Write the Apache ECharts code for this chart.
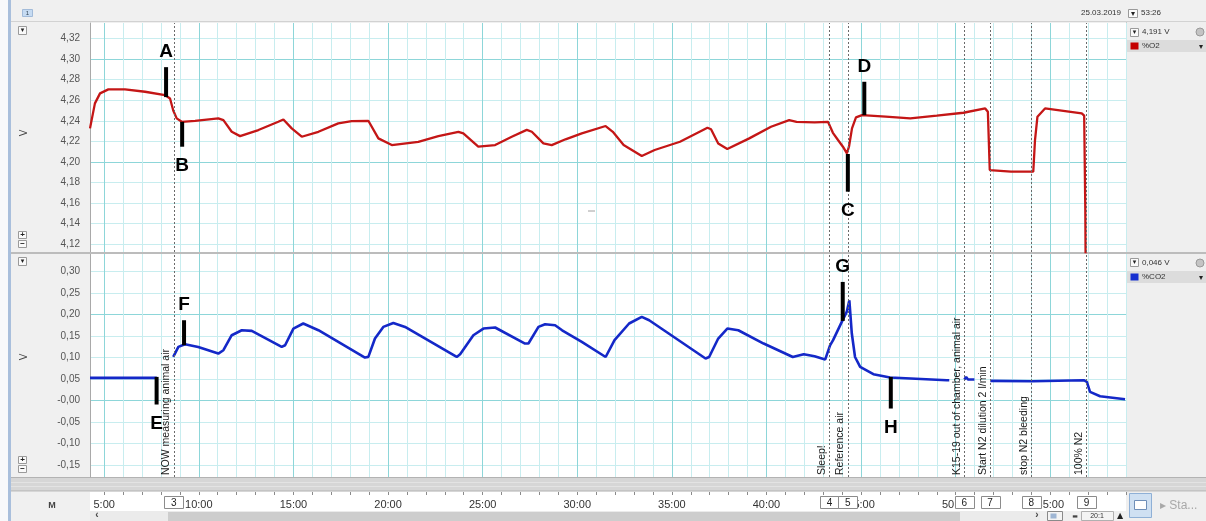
<!DOCTYPE html>
<html>
<head>
<meta charset="utf-8">
<script src="https://cdn.jsdelivr.net/npm/echarts@6/dist/echarts.min.js"></script>
<style>
html,body{margin:0;padding:0;background:#f0f0f0;overflow:hidden;}
#chart{width:1206px;height:521px;}
</style>
</head>
<body>
<div id="chart"></div>
<script>
// ---------------- DATA ----------------
// time in minutes
const o2Time = [4.25, 4.51, 4.78, 5.22, 6.10, 7.16, 8.21, 8.48, 8.65, 8.83, 9.10, 9.80, 11.03, 11.30, 11.74, 12.18, 13.15, 14.20, 14.47, 14.91, 15.44, 16.32, 17.37, 18.08, 18.96, 19.49, 20.20, 21.60, 22.66, 23.72, 23.98, 24.77, 25.66, 26.54, 27.33, 27.60, 28.21, 28.65, 29.38, 30.24, 31.50, 31.88, 32.45, 33.41, 34.09, 35.43, 36.88, 37.07, 37.45, 37.93, 39.09, 40.24, 41.20, 41.59, 42.54, 43.25, 43.51, 43.78, 44.04, 44.25, 44.36, 44.52, 44.73, 45.05, 46.30, 47.60, 49.00, 50.41, 51.56, 51.70, 51.80, 52.92, 54.10, 54.19, 54.32, 54.72, 56.66, 56.79, 56.85, 56.90];
const o2Values = [4.2326, 4.2569, 4.2666, 4.2705, 4.2705, 4.2682, 4.2650, 4.2617, 4.2500, 4.2423, 4.2390, 4.2400, 4.2423, 4.2407, 4.2293, 4.2251, 4.2310, 4.2390, 4.2413, 4.2326, 4.2245, 4.2293, 4.2375, 4.2397, 4.2400, 4.2229, 4.2164, 4.2196, 4.2251, 4.2293, 4.2278, 4.2148, 4.2164, 4.2245, 4.2312, 4.2293, 4.2180, 4.2164, 4.2220, 4.2278, 4.2349, 4.2293, 4.2164, 4.2057, 4.2116, 4.2196, 4.2332, 4.2317, 4.2180, 4.2125, 4.2229, 4.2342, 4.2407, 4.2390, 4.2384, 4.2390, 4.2283, 4.2213, 4.2148, 4.2083, 4.2148, 4.2326, 4.2433, 4.2455, 4.2440, 4.2423, 4.2450, 4.2478, 4.2520, 4.2487, 4.1921, 4.1905, 4.1905, 4.2210, 4.2440, 4.2520, 4.2472, 4.2450, 4.1530, 4.0000];

const co2Time = [4.25, 7.78, 7.80, 8.65, 8.92, 9.27, 9.97, 11.03, 11.30, 11.74, 12.27, 12.80, 14.38, 14.56, 15.00, 15.52, 16.32, 18.78, 18.96, 19.31, 19.75, 20.28, 20.90, 23.63, 23.81, 24.51, 25.04, 25.66, 27.24, 27.42, 27.95, 28.30, 28.83, 29.20, 30.24, 31.50, 31.97, 32.74, 33.41, 33.80, 36.78, 36.97, 37.45, 37.93, 38.51, 39.85, 41.39, 41.97, 42.54, 43.10, 43.36, 43.52, 43.98, 44.24, 44.38, 44.51, 44.68, 44.95, 45.65, 46.53, 49.53, 49.66, 49.70, 50.46, 50.55, 50.65, 50.99, 51.05, 51.83, 54.07, 56.77, 56.93, 57.10, 57.63, 58.95];
const co2Values = [0.0525, 0.0525, null, 0.1012, 0.1244, 0.1306, 0.1244, 0.1090, 0.1167, 0.1515, 0.1631, 0.1615, 0.1244, 0.1283, 0.1670, 0.1787, 0.1631, 0.0998, 0.1012, 0.1438, 0.1708, 0.1800, 0.1708, 0.1012, 0.1074, 0.1515, 0.1670, 0.1694, 0.1322, 0.1322, 0.1708, 0.1770, 0.1747, 0.1630, 0.1360, 0.1010, 0.1400, 0.1787, 0.1940, 0.1863, 0.0974, 0.1010, 0.1438, 0.1670, 0.1631, 0.1322, 0.1010, 0.1074, 0.1028, 0.0950, 0.1280, 0.1400, 0.1824, 0.2056, 0.2327, 0.1554, 0.1010, 0.0780, 0.0610, 0.0534, 0.0471, 0.0471, null, 0.0487, 0.0548, 0.0487, 0.0487, null, 0.0455, 0.0448, 0.0471, 0.0432, 0.0200, 0.0100, 0.0030];

// tick labels
const o2TickValues = [4.12, 4.14, 4.16, 4.18, 4.20, 4.22, 4.24, 4.26, 4.28, 4.30, 4.32];
const o2TickLabels = ['4,12', '4,14', '4,16', '4,18', '4,20', '4,22', '4,24', '4,26', '4,28', '4,30', '4,32'];
const co2TickValues = [-0.15, -0.10, -0.05, 0, 0.05, 0.10, 0.15, 0.20, 0.25, 0.30];
const co2TickLabels = ['-0,15', '-0,10', '-0,05', '-0,00', '0,05', '0,10', '0,15', '0,20', '0,25', '0,30'];
const timeTickValues = [5, 10, 15, 20, 25, 30, 35, 40, 45, 50, 55];
const timeTickLabels = ['5:00', '10:00', '15:00', '20:00', '25:00', '30:00', '35:00', '40:00', '45:00', '50:00', '55:00'];

// comments
const commentTimes = [8.68, 43.33, 44.30, 50.46, 51.82, 53.99, 56.91];
const commentNumbers = ['3', '4', '5', '6', '7', '8', '9'];
const commentTexts = ['NOW measuring animal air', 'Sleep!', 'Reference air', 'K15-19 out of chamber, animal air', 'Start N2 dilution 2 l/min', 'stop N2 bleeding', '100% N2'];

// letter annotations (time, low value, high value)
const o2AnnLetters = ['A', 'B', 'C', 'D'];
const o2AnnTimes = [8.27, 9.12, 44.30, 45.17];
const o2AnnLow = [4.263, 4.2148, 4.1711, 4.2455];
const o2AnnHigh = [4.2921, 4.2390, 4.2077, 4.2779];
const o2AnnSide = ['above', 'below', 'below', 'above'];
const co2AnnLetters = ['E', 'F', 'G', 'H'];
const co2AnnTimes = [7.77, 9.22, 44.03, 46.57];
const co2AnnLow = [-0.0093, 0.1283, 0.1847, -0.0186];
const co2AnnHigh = [0.0548, 0.1863, 0.2752, 0.0548];
const co2AnnSide = ['below', 'above', 'above', 'below'];

// --------------- BUILD ---------------
const FONT = '"Liberation Sans", Arial, sans-serif';
const X_MIN = 4.25, X_MAX = 59.0, X_STEP = 0.25;
const MAJ = '#8dd6d9', MIN = '#c8edef', NONE = 'rgba(0,0,0,0)';

function cycle(len, major, minors) {
  const a = [];
  for (let i = 0; i < len; i++) a.push(NONE);
  minors.forEach(i => a[i] = MIN);
  major.forEach(i => a[i] = MAJ);
  return a;
}
function labelFor(vals, labels) {
  return function (v) {
    for (let i = 0; i < vals.length; i++) if (Math.abs(v - vals[i]) < 1e-6) return labels[i];
    return '';
  };
}
const zip = (a, b) => a.map((t, i) => [t, b[i]]);

const xSplitColors = cycle(20, [3], [7, 11, 15, 19]);
const o2SplitColors = cycle(40, [35], [3, 11, 19, 27]);
const co2SplitColors = cycle(80, [71], [11, 31, 51]);
const tickColors = [NONE, NONE, NONE, '#8a8a8a'];

function annRender(letters, sides) {
  return function (params, api) {
    const i = params.dataIndex;
    const p1 = api.coord([api.value(0), api.value(1)]);
    const p2 = api.coord([api.value(0), api.value(2)]);
    const top = Math.min(p1[1], p2[1]), bot = Math.max(p1[1], p2[1]);
    const ly = sides[i] === 'above' ? top - 15 : bot + 19;
    return {
      type: 'group', children: [
        { type: 'line', shape: { x1: p1[0], y1: top, x2: p1[0], y2: bot }, style: { stroke: '#000', lineWidth: 4 } },
        { type: 'text', style: { text: letters[i], x: p1[0], y: ly, align: 'center', verticalAlign: 'middle', font: 'bold 19px ' + FONT, fill: '#000' } }
      ]
    };
  };
}

function commentLine(withLabel) {
  return {
    silent: true, symbol: ['none', 'none'], animation: false,
    lineStyle: { color: '#6a6a6a', type: [2, 2], width: 1 },
    label: withLabel ? {
      show: true, position: 'insideStartTop', formatter: '{b}', color: '#1a1a1a',
      fontSize: 10.5, fontFamily: FONT, distance: [2, 2]
    } : { show: false },
    emphasis: { disabled: true },
    data: commentTimes.map((t, i) => ({ xAxis: t, name: commentTexts[i] }))
  };
}

const xBase = {
  type: 'value', min: X_MIN, max: X_MAX, interval: X_STEP,
  axisLine: { show: false }, axisTick: { show: false }, axisLabel: { show: false }
};

const chrome = [];
function R(x, y, w, h, fill, stroke, z) { chrome.push({ type: 'rect', shape: { x, y, width: w, height: h }, style: { fill, stroke: stroke || null, lineWidth: 1 }, z: z === undefined ? -1 : z, silent: true }); }
function T(text, x, y, font, fill, align, rot, z) { chrome.push({ type: 'text', x, y, rotation: rot || 0, style: { text, x: 0, y: 0, font, fill, align: align || 'left', verticalAlign: 'middle' }, z: z === undefined ? 5 : z, silent: true }); }

// left edge
R(0, 0, 8, 521, '#f8f9fb');
R(8, 0, 3, 521, '#a9bfdc');
// header
R(11, 0, 1195, 22, '#f0f0f0');
R(11, 21, 1195, 1, '#d2d2d2');
R(22.5, 9.5, 10, 7, '#c6dbf2', '#a2bbd9', 5);
T('1', 27.5, 13, '6px ' + FONT, '#345', 'center');
T('25.03.2019', 1101, 13, '8px ' + FONT, '#333', 'center');
R(1128.5, 9.5, 9, 8, '#fafafa', '#9a9a9a', 5);
T('▾', 1133, 13.5, '8px "DejaVu Sans"', '#222', 'center');
T('53:26', 1141, 13, '8px ' + FONT, '#333');
// right panel
R(1126, 22, 80, 455, '#efefef');
R(1126, 22, 1, 455, '#c9c9c9');
R(1130.5, 28.5, 8, 8, '#fafafa', '#9a9a9a', 5);
T('▾', 1134.5, 32.5, '7px "DejaVu Sans"', '#222', 'center');
T('4,191 V', 1142, 32, '8px ' + FONT, '#333');
chrome.push({ type: 'circle', shape: { cx: 1200, cy: 32, r: 4 }, style: { fill: '#c4c4c4', stroke: '#9a9a9a' }, z: 5, silent: true });
R(1127, 40, 79, 12, '#dcdcdc');
R(1130.5, 42.5, 8, 7, '#c40000', null, 5);
T('%O2', 1142, 46, '8px ' + FONT, '#333');
T('▾', 1201, 46.5, '8px "DejaVu Sans"', '#222', 'center');
R(1130.5, 258.5, 8, 8, '#fafafa', '#9a9a9a', 5);
T('▾', 1134.5, 262.5, '7px "DejaVu Sans"', '#222', 'center');
T('0,046 V', 1142, 263, '8px ' + FONT, '#333');
chrome.push({ type: 'circle', shape: { cx: 1200, cy: 263, r: 4 }, style: { fill: '#c4c4c4', stroke: '#9a9a9a' }, z: 5, silent: true });
R(1127, 271, 79, 12, '#dcdcdc');
R(1130.5, 273.5, 8, 7, '#1730d0', null, 5);
T('%CO2', 1142, 277, '8px ' + FONT, '#333');
T('▾', 1201, 277.5, '8px "DejaVu Sans"', '#222', 'center');
// panel separator
R(11, 252, 1195, 2, '#bcbcbc', null, 3);
// left axis buttons
R(18.5, 26.5, 8, 8, '#fafafa', '#9a9a9a', 5);
T('▾', 22.5, 30.5, '7px "DejaVu Sans"', '#222', 'center');
T('V', 24, 133, '10px ' + FONT, '#444', 'center', Math.PI / 2);
R(18.5, 231.5, 8, 7, '#fafafa', '#9a9a9a', 5);
T('+', 22.5, 235, 'bold 8px ' + FONT, '#222', 'center');
R(18.5, 240.5, 8, 7, '#fafafa', '#9a9a9a', 5);
T('−', 22.5, 244, 'bold 8px ' + FONT, '#222', 'center');
R(18.5, 257.5, 8, 8, '#fafafa', '#9a9a9a', 5);
T('▾', 22.5, 261.5, '7px "DejaVu Sans"', '#222', 'center');
T('V', 24, 357, '10px ' + FONT, '#444', 'center', Math.PI / 2);
R(18.5, 456.5, 8, 7, '#fafafa', '#9a9a9a', 5);
T('+', 22.5, 460, 'bold 8px ' + FONT, '#222', 'center');
R(18.5, 465.5, 8, 7, '#fafafa', '#9a9a9a', 5);
T('−', 22.5, 469, 'bold 8px ' + FONT, '#222', 'center');
// band under lower plot
R(11, 477, 1195, 15, '#d6d6d6');
R(11, 477, 1195, 1, '#b3b3b3');
R(11, 482, 1195, 1, '#e3e3e3');
R(11, 486, 1195, 1, '#e3e3e3');
R(11, 490, 1195, 1, '#c4c4c4');
// time axis strip
R(90, 492, 1036, 19, '#ffffff');
T('M', 52, 506, 'bold 9px ' + FONT, '#444', 'center');
// scrollbar
R(90, 511, 950, 10, '#ebebeb');
R(168, 512, 792, 9, '#cdcdcd');
T('‹', 97, 515, 'bold 10px ' + FONT, '#444', 'center');
T('›', 1037, 515, 'bold 10px ' + FONT, '#444', 'center');
R(1047.5, 511.5, 15, 9, '#f4f4f4', '#8a8a8a', 5);
R(1050.5, 513.5, 6, 5, '#9fb6d4', null, 6);
T('▬', 1075, 516, '6px "DejaVu Sans"', '#444', 'center');
R(1081.5, 511.5, 32, 9, '#f4f4f4', '#b0b0b0', 5);
T('20:1', 1097, 516, '7px ' + FONT, '#333', 'center');
T('▲', 1120, 516, '8px "DejaVu Sans"', '#222', 'center');
// bottom right button
R(1126, 492, 80, 29, '#efefef');
R(1129.5, 493.5, 22, 24, '#cfe0f2', '#8fb0d6', 5);
R(1134.5, 500.5, 12, 9, '#ffffff', '#6f8fb8', 6);
T('▸ Sta...', 1160, 506, '12px ' + FONT, '#a8a8a8');
// small cursor dash in top panel
chrome.push({ type: 'line', shape: { x1: 588, y1: 211, x2: 595, y2: 211 }, style: { stroke: '#a0a0a0', lineWidth: 1 }, z: 5, silent: true });

const chart = echarts.init(document.getElementById('chart'), null, { renderer: 'canvas' });
chart.setOption({
  animation: false,
  backgroundColor: '#f0f0f0',
  graphic: { elements: chrome },
  grid: [
    { left: 90, top: 23, width: 1036, height: 229, show: true, backgroundColor: '#ffffff', borderWidth: 0 },
    { left: 90, top: 254, width: 1036, height: 223, show: true, backgroundColor: '#ffffff', borderWidth: 0 },
    { left: 90, top: 492, width: 1036, height: 3, show: false }
  ],
  xAxis: [
    Object.assign({ gridIndex: 0, splitLine: { show: true, lineStyle: { color: xSplitColors, width: 1 } } }, xBase),
    Object.assign({ gridIndex: 1, splitLine: { show: true, lineStyle: { color: xSplitColors, width: 1 } } }, xBase),
    {
      gridIndex: 2, type: 'value', min: X_MIN, max: X_MAX, interval: X_STEP, position: 'bottom',
      axisLine: { show: false }, axisTick: { show: false },
      splitLine: { show: true, lineStyle: { color: tickColors, width: 1 } },
      axisLabel: { show: true, formatter: labelFor(timeTickValues, timeTickLabels), margin: 4, color: '#333', fontSize: 11, fontFamily: FONT }
    }
  ],
  yAxis: [
    {
      gridIndex: 0, type: 'value', min: 4.1125, max: 4.335, interval: 0.0025,
      axisLine: { show: true, lineStyle: { color: '#a9a9a9' } }, axisTick: { show: false },
      axisLabel: { formatter: labelFor(o2TickValues, o2TickLabels), margin: 10, color: '#555', fontSize: 10, fontFamily: FONT },
      splitLine: { show: true, lineStyle: { color: o2SplitColors, width: 1 } }
    },
    {
      gridIndex: 1, type: 'value', min: -0.1775, max: 0.34, interval: 0.0025,
      axisLine: { show: true, lineStyle: { color: '#a9a9a9' } }, axisTick: { show: false },
      axisLabel: { formatter: labelFor(co2TickValues, co2TickLabels), margin: 10, color: '#555', fontSize: 10, fontFamily: FONT },
      splitLine: { show: true, lineStyle: { color: co2SplitColors, width: 1 } }
    },
    { gridIndex: 2, type: 'value', min: 0, max: 1, show: false }
  ],
  series: [
    {
      type: 'line', name: '%O2', xAxisIndex: 0, yAxisIndex: 0, data: zip(o2Time, o2Values),
      showSymbol: false, symbol: 'none', clip: true, lineStyle: { color: '#c41616', width: 2.3 },
      markLine: commentLine(false)
    },
    {
      type: 'line', name: '%CO2', xAxisIndex: 1, yAxisIndex: 1, data: zip(co2Time, co2Values),
      showSymbol: false, symbol: 'none', clip: true, connectNulls: false, lineStyle: { color: '#1428c8', width: 2.6 },
      markLine: commentLine(true)
    },
    {
      type: 'custom', xAxisIndex: 0, yAxisIndex: 0, clip: false, z: 5,
      data: o2AnnTimes.map((t, i) => [t, o2AnnLow[i], o2AnnHigh[i]]),
      encode: { x: 0, y: [1, 2] },
      renderItem: annRender(o2AnnLetters, o2AnnSide)
    },
    {
      type: 'custom', xAxisIndex: 1, yAxisIndex: 1, clip: false, z: 5,
      data: co2AnnTimes.map((t, i) => [t, co2AnnLow[i], co2AnnHigh[i]]),
      encode: { x: 0, y: [1, 2] },
      renderItem: annRender(co2AnnLetters, co2AnnSide)
    },
    {
      type: 'custom', xAxisIndex: 2, yAxisIndex: 2, clip: false, z: 6,
      data: commentTimes.map(t => [t, 0.5]),
      encode: { x: 0, y: 1 },
      renderItem: function (params, api) {
        const p = api.coord([api.value(0), 0.5]);
        const i = params.dataIndex;
        return {
          type: 'group', children: [
            { type: 'rect', shape: { x: Math.round(p[0] - 9.5) + 0.5, y: 496.5, width: 19, height: 12 }, style: { fill: '#ffffff', stroke: '#8c8c8c', lineWidth: 1 } },
            { type: 'text', style: { text: commentNumbers[i], x: p[0], y: 503, align: 'center', verticalAlign: 'middle', font: '10px ' + FONT, fill: '#222' } }
          ]
        };
      }
    }
  ]
});
</script>
</body>
</html>
